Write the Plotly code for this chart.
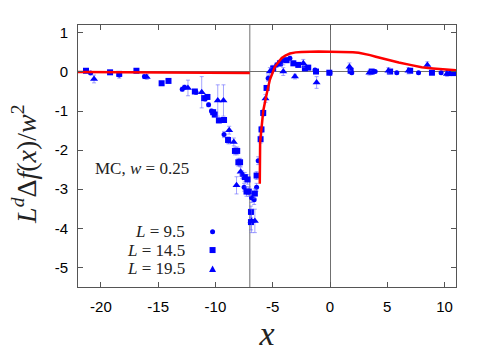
import plotly.graph_objects as go

# ---------------- data ----------------
# L = 9.5 (circles)
c_x = [-20.9, -18.4, -16.2, -12.9, -12.7, -11.7, -10.9, -10.6, -10.35, -10.1, -9.25, -8.85,
       -7.67, -7.5, -6.85, -6.62, -6.41, -6.27, -5.4, -4.66, -3.5, -1.31, 0.0, 1.9, 3.94, 5.83, 7.73, 9.7]
c_y = [-0.03, -0.08, -0.12, -0.44, -0.39, -0.52, -0.69, -0.84, -1.0, -1.09, -1.6, -1.76,
       -2.63, -2.95, -3.22, -3.27, -2.95, -2.27, -0.16, 0.18, 0.35, 0.05, -0.03, -0.02, 0.01, -0.02, -0.02, -0.02]
c_e = [0.03, 0.08, 0.05, 0.05, 0.05, 0.05, 0.05, 0.05, 0.05, 0.05, 0.08, 0.08,
       0.1, 0.1, 0.12, 0.12, 0.1, 0.1, 0.08, 0.06, 0.05, 0.04, 0.04, 0.03, 0.03, 0.03, 0.03, 0.03]

# L = 14.5 (squares)
s_x = [-21.3, -19.2, -18.4, -16.9, -14.7, -14.1, -11.8, -11.0, -10.7, -10.2, -10.06, -9.7, -9.25,
       -8.9, -8.3, -8.1, -8.0, -7.85, -7.44, -7.2, -7.29, -7.09, -6.9, -6.9, -6.56, -6.41, -6.06,
       -5.98, -5.83, -5.54, -4.96, -4.37, -3.79, -3.2, -2.77, -2.19, -1.9, -1.22, -0.06, 1.8,
       3.64, 5.25, 7.0, 8.9, 10.35, 10.8]
s_y = [0.03, -0.01, -0.05, 0.03, -0.29, -0.23, -0.5, -0.67, -0.64, -1.03, -1.09, -1.24, -1.23,
       -1.74, -2.02, -2.02, -2.31, -2.31, -2.69, -2.75, -3.06, -3.06, -3.58, -3.84, -3.11, -2.65, -1.72,
       -1.47, -1.05, -0.41, 0.09, 0.22, 0.3, 0.22, 0.18, 0.09, 0.11, 0.01, -0.02, 0.03,
       0.01, 0.01, 0.03, -0.02, -0.03, -0.03]
s_e = [0.03, 0.04, 0.06, 0.03, 0.05, 0.05, 0.05, 0.06, 0.06, 0.06, 0.06, 0.06, 0.06,
       0.08, 0.1, 0.1, 0.1, 0.1, 0.12, 0.12, 0.12, 0.12, 0.15, 0.2, 0.12, 0.1, 0.1,
       0.08, 0.08, 0.06, 0.08, 0.08, 0.06, 0.06, 0.06, 0.05, 0.05, 0.04, 0.04, 0.04,
       0.03, 0.03, 0.03, 0.03, 0.03, 0.03]

# L = 19.5 (triangles)
t_x = [-20.6, -16.0, -12.4, -11.2, -9.8, -9.3, -8.8, -8.4, -7.8, -8.16, -6.85, -6.56, -5.63,
       -5.25, -4.08, -4.08, -3.06, -2.33, -1.17, 1.7, 3.44, 5.1, 6.85, 8.5, 10.2]
t_y = [-0.18, -0.13, -0.41, -0.52, -0.73, -0.73, -1.49, -1.79, -2.55, -2.9, -3.81, -3.81, -0.68,
       0.01, 0.28, 0.01, -0.12, 0.22, -0.27, 0.13, -0.02, 0.03, 0.03, 0.18, -0.05]
t_e = [0.1, 0.06, 0.2, 0.4, 0.4, 0.4, 0.1, 0.1, 0.12, 0.22, 0.3, 0.3, 0.1,
       0.1, 0.1, 0.1, 0.06, 0.1, 0.15, 0.1, 0.06, 0.08, 0.08, 0.08, 0.06]

# theory curve (two branches, separated by a gap)
curve_left_x = [-22, -18, -14, -10, -7]
curve_left_y = [0.0, -0.005, -0.01, -0.02, -0.03]
curve_right_x = [-6.13, -6.12, -6.1, -6.0, -5.83, -5.54, -5.25, -4.81, -4.5, -4.23, -3.9, -3.5,
                 -3.0, -2.5, -1.0, 1.0, 1.5, 2.0, 2.5, 3.0, 3.5, 4.0, 5.0, 6.0, 7.0, 8.0,
                 9.0, 10.0, 11.0]
curve_right_y = [-2.86, -2.3, -1.8, -1.5, -1.0, -0.58, -0.2, 0.13, 0.26, 0.35, 0.42, 0.47,
                 0.5, 0.51, 0.52, 0.52, 0.515, 0.505, 0.49, 0.465, 0.43, 0.39, 0.31, 0.24,
                 0.18, 0.12, 0.09, 0.06, 0.04]

vline_x = -7
legend_labels = ["<i>L</i> = 9.5", "<i>L</i> = 14.5", "<i>L</i> = 19.5"]
x_ticks = [-20, -15, -10, -5, 0, 5, 10]
y_ticks = [-5, -4, -3, -2, -1, 0, 1]

# ---------------- figure ----------------
BLUE = "#0000ff"
ERR = "rgba(90,90,255,0.55)"
fig = go.Figure()

for xs, ys, es, sym, sz in [(c_x, c_y, c_e, "circle", 5),
                            (s_x, s_y, s_e, "square", 6),
                            (t_x, t_y, t_e, "triangle-up", 7)]:
    fig.add_trace(go.Scatter(
        x=xs, y=ys, mode="markers",
        marker=dict(symbol=sym, size=sz, color=BLUE, line=dict(width=0)),
        error_y=dict(type="data", array=es, color=ERR, thickness=1, width=2),
        showlegend=False))

fig.add_trace(go.Scatter(x=curve_left_x + [None] + curve_right_x,
                         y=curve_left_y + [None] + curve_right_y,
                         mode="lines", line=dict(color="#ff0000", width=2.5),
                         connectgaps=False, showlegend=False))

fig.add_shape(type="line", xref="x", yref="paper", x0=vline_x, x1=vline_x, y0=0, y1=1,
              line=dict(color="#707070", width=1), layer="below")

serif = "Liberation Serif"
# legend (text left, symbol right, as in the original); symbols drawn as pixel-sized shapes
leg_y = [0.211, 0.141, 0.069]
leg_sym_x = 0.356
for lab, yy in zip(legend_labels, leg_y):
    fig.add_annotation(x=0.2876, y=yy, xref="paper", yref="paper", text=lab,
                       showarrow=False, xanchor="right", yanchor="middle",
                       font=dict(family=serif, size=17, color="#222222"))
sym_common = dict(xref="paper", yref="paper", xsizemode="pixel", ysizemode="pixel",
                  xanchor=leg_sym_x, fillcolor=BLUE, line=dict(width=0))
fig.add_shape(type="circle", yanchor=leg_y[0], x0=-2.5, x1=2.5, y0=-2.5, y1=2.5, **sym_common)
fig.add_shape(type="rect", yanchor=leg_y[1], x0=-3, x1=3, y0=-3, y1=3, **sym_common)
fig.add_shape(type="path", yanchor=leg_y[2], path="M -3.5 -3 L 3.5 -3 L 0 3.5 Z", **sym_common)

fig.add_annotation(x=0.04, y=0.451, xref="paper", yref="paper",
                   text="MC, <i>w</i> = 0.25", showarrow=False,
                   xanchor="left", yanchor="middle",
                   font=dict(family=serif, size=17, color="#222222"))

# y-axis title placed as a rotated annotation
fig.add_annotation(x=-0.14, y=0.47, xref="paper", yref="paper",
                   text="<i>L</i><sup><i>d</i></sup>Δ<i>f</i>(<i>x</i>)/<i>w</i><sup>2</sup>",
                   textangle=-90, showarrow=False, xanchor="center", yanchor="middle",
                   font=dict(family=serif, size=28, color="#222222"))

axis_common = dict(showgrid=False, showline=True, linecolor="#555555", linewidth=1,
                   mirror="ticks", ticks="inside", ticklen=5, tickcolor="#555555",
                   zeroline=True, zerolinecolor="#707070", zerolinewidth=1,
                   tickfont=dict(family="Liberation Sans", size=15, color="#000000"))

fig.update_xaxes(range=[-22, 11], tickvals=x_ticks, ticktext=[str(v) for v in x_ticks],
                 ticklabelstandoff=6,
                 title=dict(text="<i>x</i>", font=dict(family=serif, size=34, color="#222222"),
                            standoff=2),
                 **axis_common)
fig.update_yaxes(range=[-5.5, 1.2], tickvals=y_ticks, ticktext=[str(v) for v in y_ticks],
                 ticklabelstandoff=6, **axis_common)

fig.update_layout(width=502, height=353,
                  margin=dict(l=78, r=46, t=25, b=64),
                  plot_bgcolor="white", paper_bgcolor="white")

fig.write_html("out.html", config={"displayModeBar": False},
               post_script="document.body.style.margin='0';")
